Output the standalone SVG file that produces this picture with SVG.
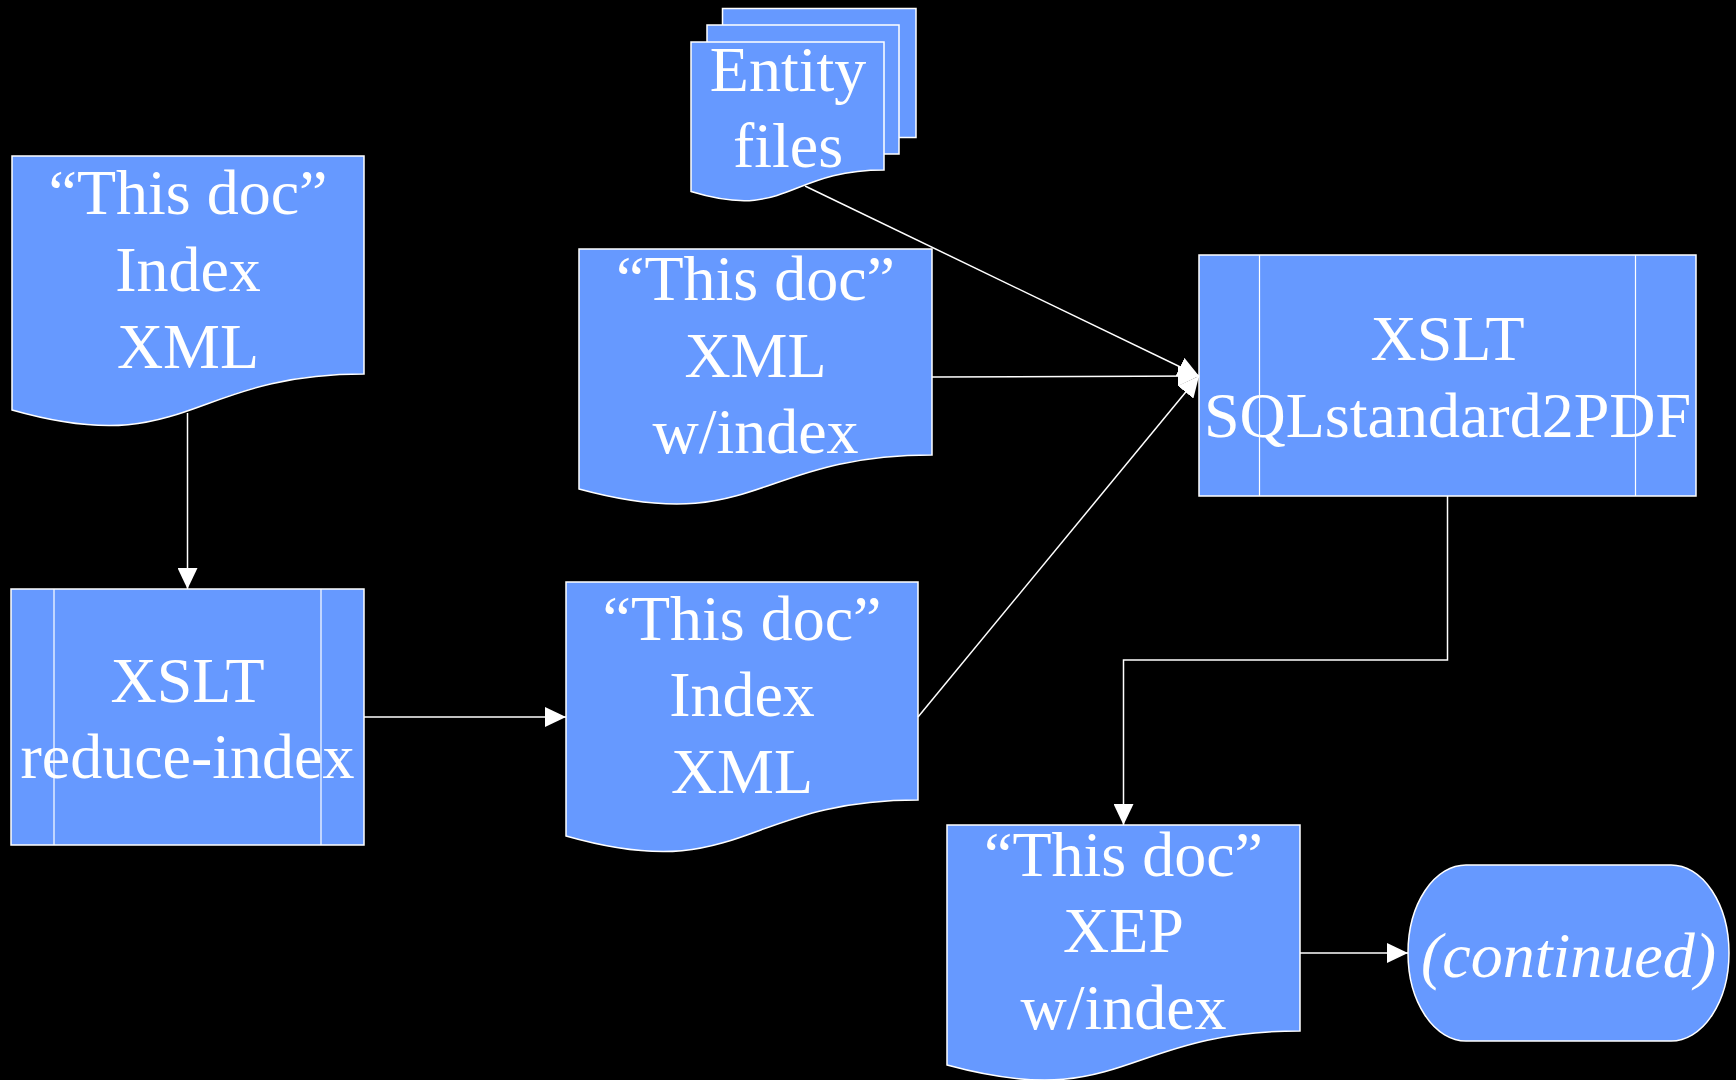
<svg xmlns="http://www.w3.org/2000/svg" width="1736" height="1080" viewBox="0 0 1736 1080">
<style>
.shape{fill:#6699FF;stroke:#FFFFFF;stroke-width:1.5}
.inner{fill:none;stroke:#FFFFFF;stroke-width:1.2}
.t{font-family:"Liberation Serif","Times New Roman",serif;font-size:64px;fill:#FFFFFF;text-anchor:middle}
.it{font-style:italic}
.conn{fill:none;stroke:#FFFFFF;stroke-width:1.5}
</style>
<defs>
<marker id="arr" markerUnits="userSpaceOnUse" markerWidth="21" markerHeight="20" viewBox="0 0 21 20" refX="21" refY="10" orient="auto">
<path d="M0,0 L21,10 L0,20 Z" fill="#FFFFFF"/>
</marker>
</defs>
<rect width="1736" height="1080" fill="#000000"/>

<g id="entity-files">
<rect class="shape" x="722.5" y="8.5" width="193.5" height="129"/>
<rect class="shape" x="707" y="25" width="192" height="129"/>
<path class="shape" d="M691,42 H884 V170 C787.5,170 787.5,221 691,191.5 Z"/>
<text class="t" x="788" y="91">Entity</text>
<text class="t" x="788" y="167">files</text>
</g>

<g id="doc-index-xml">
<path class="shape" d="M12,156 H364 V374 C188,374 188,460 12,410 Z"/>
<text class="t" x="188" y="214">“This doc”</text>
<text class="t" x="188" y="291">Index</text>
<text class="t" x="188" y="368">XML</text>
</g>

<g id="doc-xml-windex">
<path class="shape" d="M579,249 H932 V455 C755.5,455 755.5,537 579,489 Z"/>
<text class="t" x="755.5" y="300">“This doc”</text>
<text class="t" x="755.5" y="377">XML</text>
<text class="t" x="755.5" y="453">w/index</text>
</g>

<g id="xslt-sqlstandard2pdf">
<rect class="shape" x="1199" y="255" width="497" height="241"/>
<line class="inner" x1="1259.5" y1="255" x2="1259.5" y2="496"/>
<line class="inner" x1="1635.5" y1="255" x2="1635.5" y2="496"/>
<text class="t" x="1447.5" y="360">XSLT</text>
<text class="t" x="1447.5" y="437">SQLstandard2PDF</text>
</g>

<g id="xslt-reduce-index">
<rect class="shape" x="11" y="589" width="353" height="256"/>
<line class="inner" x1="54" y1="589" x2="54" y2="845"/>
<line class="inner" x1="321" y1="589" x2="321" y2="845"/>
<text class="t" x="187.5" y="702">XSLT</text>
<text class="t" x="187.5" y="778">reduce-index</text>
</g>

<g id="doc-index-xml-2">
<path class="shape" d="M566,582 H918 V800 C742,800 742,886 566,836 Z"/>
<text class="t" x="742" y="640">“This doc”</text>
<text class="t" x="742" y="716">Index</text>
<text class="t" x="742" y="793">XML</text>
</g>

<g id="doc-xep-windex">
<path class="shape" d="M947,825 H1300 V1031 C1123.5,1031 1123.5,1113 947,1065 Z"/>
<text class="t" x="1123.5" y="876">“This doc”</text>
<text class="t" x="1123.5" y="952">XEP</text>
<text class="t" x="1123.5" y="1029">w/index</text>
</g>

<g id="continued">
<rect class="shape" x="1408" y="865" width="321" height="176" rx="58" ry="88"/>
<text class="t it" x="1568.5" y="977">(continued)</text>
</g>

<g id="connectors">
<path class="conn" d="M187.5,413 V589" marker-end="url(#arr)"/>
<path class="conn" d="M364,717 H566" marker-end="url(#arr)"/>
<path class="conn" d="M805,186 L1199,376" marker-end="url(#arr)"/>
<path class="conn" d="M932,377 L1199,376" marker-end="url(#arr)"/>
<path class="conn" d="M918,717 L1199,376" marker-end="url(#arr)"/>
<path class="conn" d="M1447.5,496 V660 H1123.5 V825" marker-end="url(#arr)"/>
<path class="conn" d="M1300,953 H1408" marker-end="url(#arr)"/>
</g>
</svg>
